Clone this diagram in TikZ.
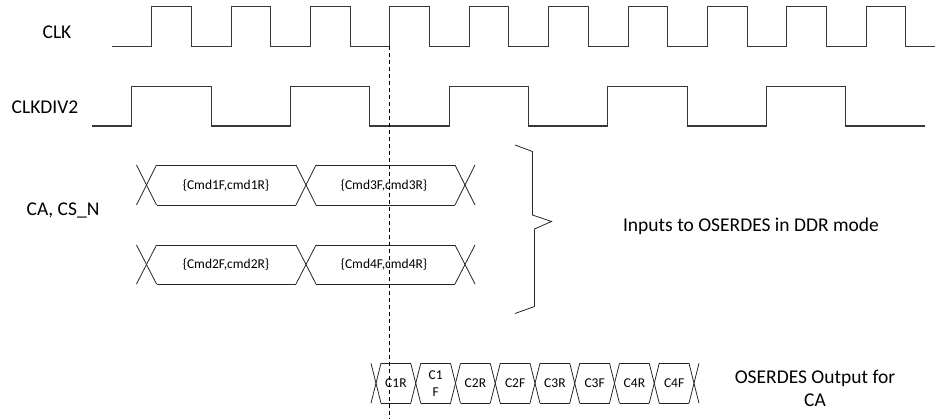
\documentclass[tikz,border=0pt]{standalone}
\usepackage{fontspec}
\setmainfont{Carlito}
\begin{document}
\begin{tikzpicture}[x=1pt,y=-1pt,
  wave/.style={draw=black!78,line width=1.1pt,line join=miter},
  bus/.style={draw=black!85,line width=0.8pt},
  biglabel/.style={font=\fontsize{19.5}{23}\selectfont,inner sep=0pt},
  smalllabel/.style={font=\fontsize{13.5}{17}\selectfont,inner sep=0pt,align=center},
  marker/.style={draw=black,line width=0.8pt,dash pattern=on 4pt off 3pt}]
\useasboundingbox (0,0) rectangle (936,419);

% labels
\node[biglabel] (clkl) at (57,32) {CLK};
\node[biglabel] (divl) at (45,107) {CLKDIV2};
\node[biglabel] (cal) at (63,210) {CA, CS\_N};
\node[biglabel] (inl) at (751,226) {Inputs to OSERDES in DDR mode};
\node[biglabel,align=center] (outl) at (815,388) {OSERDES Output for\\CA};

% CLK
\draw[wave] (112,46.5)
  foreach \k in {0,...,9} {
    -- ({151.7+79.4*\k},46.5) -- ({151.7+79.4*\k},6.7)
    -- ({191.3+79.4*\k},6.7) -- ({191.3+79.4*\k},46.5)
  } -- (935,46.5);

% CLKDIV2
\draw[wave] (92,126)
  foreach \k in {0,...,4} {
    -- ({131.7+158.7*\k},126) -- ({131.7+158.7*\k},86.7)
    -- ({211.05+158.7*\k},86.7) -- ({211.05+158.7*\k},126)
  } -- (925,126);

% bus rows (CA, CS_N)
\foreach \t/\b in {165/205,245/284}{
  \foreach \c in {146.5,306,465}{
    \draw[bus] ({\c-10},\t) -- ({\c+10},\b);
    \draw[bus] ({\c-10},\b) -- ({\c+10},\t);
  }
  \foreach \a/\bb in {146.5/306,306/465}{
    \draw[bus] ({\a+10},\t) -- ({\bb-10},\t);
    \draw[bus] ({\a+10},\b) -- ({\bb-10},\b);
  }
}
\node[smalllabel] (c1) at (226,186) {\{Cmd1F,cmd1R\}};
\node[smalllabel] (c3) at (384,186) {\{Cmd3F,cmd3R\}};
\node[smalllabel] (c2) at (226,265) {\{Cmd2F,cmd2R\}};
\node[smalllabel] (c4) at (384,265) {\{Cmd4F,cmd4R\}};

% brace
\draw[bus] (515,145) -- (532.5,151.5) -- (532.5,215) -- (551.5,221.5)
  -- (534.5,229) -- (534.5,306.5) -- (515,313.5);

% OSERDES output row
\foreach \i in {0,...,8}{
  \pgfmathsetmacro{\c}{376+39.75*\i}
  \draw[bus] ({\c-5},363.3) -- ({\c+5},403.3);
  \draw[bus] ({\c-5},403.3) -- ({\c+5},363.3);
}
\foreach \i in {0,...,7}{
  \pgfmathsetmacro{\c}{376+39.75*\i}
  \draw[bus] ({\c+5},363.3) -- ({\c+39.75-5},363.3);
  \draw[bus] ({\c+5},403.3) -- ({\c+39.75-5},403.3);
}
\foreach \lab [count=\i from 0] in {C1R,{C1\\F},C2R,C2F,C3R,C3F,C4R,C4F}{
  \node[smalllabel] (o\i) at ({376+39.75*\i+19.9},383.3) {\lab};
}

% dashed reference line
\coordinate (dtop) at (389.5,46.5);
\coordinate (dbot) at (389.5,419);
\draw[marker] (dtop) -- (dbot);
\end{tikzpicture}
\end{document}
